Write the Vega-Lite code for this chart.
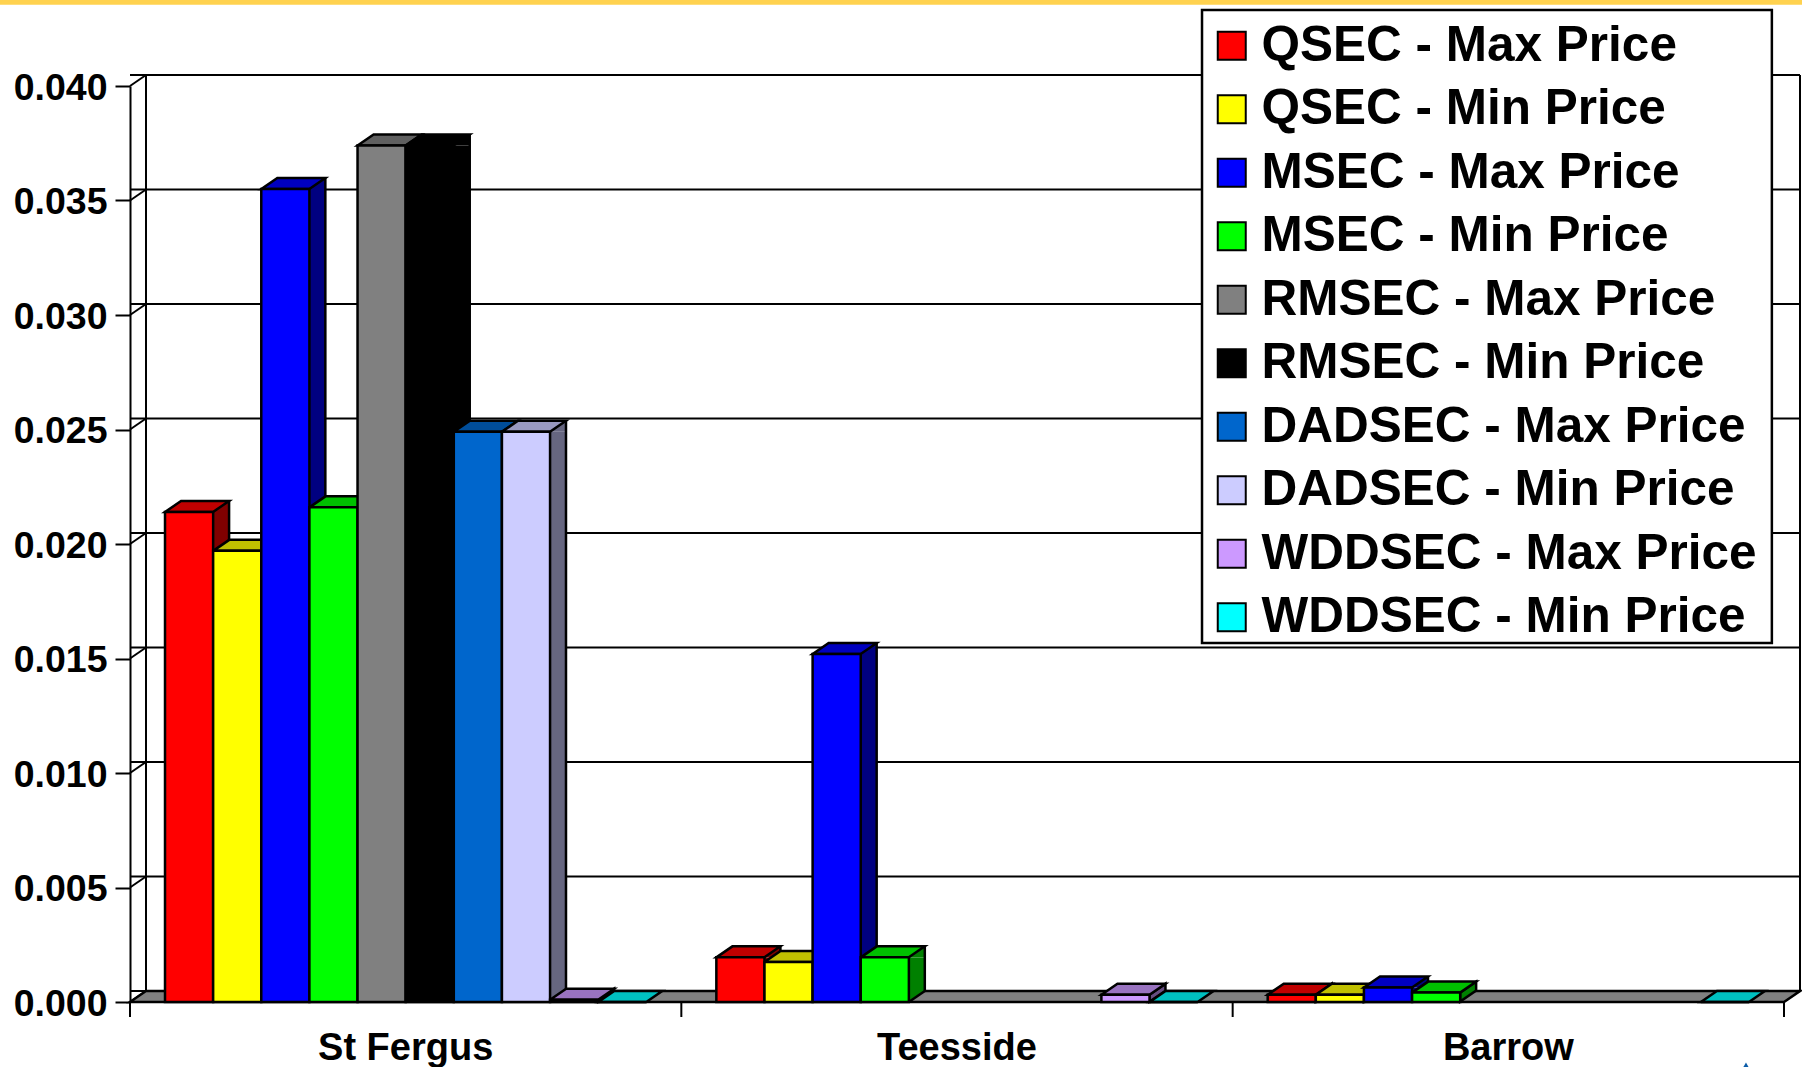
{"$schema":"https://vega.github.io/schema/vega-lite/v6.json","width":1654,"height":916,"autosize":"none","padding":{"left":130,"top":86,"right":18,"bottom":65},"background":"white","view":{"stroke":null},
"datasets":{"bars":[
{"site":"St Fergus","series":"QSEC - Max Price","value":0.0214},{"site":"St Fergus","series":"QSEC - Min Price","value":0.0197},{"site":"St Fergus","series":"MSEC - Max Price","value":0.0355},{"site":"St Fergus","series":"MSEC - Min Price","value":0.0216},{"site":"St Fergus","series":"RMSEC - Max Price","value":0.0374},{"site":"St Fergus","series":"RMSEC - Min Price","value":0.0374},{"site":"St Fergus","series":"DADSEC - Max Price","value":0.0249},{"site":"St Fergus","series":"DADSEC - Min Price","value":0.0249},{"site":"St Fergus","series":"WDDSEC - Max Price","value":0.0001},{"site":"St Fergus","series":"WDDSEC - Min Price","value":0},
{"site":"Teesside","series":"QSEC - Max Price","value":0.00195},{"site":"Teesside","series":"QSEC - Min Price","value":0.00175},{"site":"Teesside","series":"MSEC - Max Price","value":0.0152},{"site":"Teesside","series":"MSEC - Min Price","value":0.00195},{"site":"Teesside","series":"WDDSEC - Max Price","value":0.00032},{"site":"Teesside","series":"WDDSEC - Min Price","value":0},
{"site":"Barrow","series":"QSEC - Max Price","value":0.00032},{"site":"Barrow","series":"QSEC - Min Price","value":0.00032},{"site":"Barrow","series":"MSEC - Max Price","value":0.00063},{"site":"Barrow","series":"MSEC - Min Price","value":0.00041},{"site":"Barrow","series":"WDDSEC - Min Price","value":0}],
"ticks":[{"tick":0},{"tick":0.005},{"tick":0.01},{"tick":0.015},{"tick":0.02},{"tick":0.025},{"tick":0.03},{"tick":0.035},{"tick":0.04}],
"edges":[{"edge":0},{"edge":1},{"edge":2},{"edge":3}]},
"resolve":{"scale":{"x":"independent","color":"independent","shape":"independent"}},
"layer":[
{"data":{"values":[{"a":-0.2358,"b":3.0327,"top":0.043756,"bottom":0.04355}]},"mark":{"type":"rect","color":"#FFD24F"},"encoding":{"x":{"field":"a","type":"quantitative","scale":{"domain":[0,3],"nice":false,"zero":false},"axis":null},"x2":{"field":"b"},"y":{"field":"top","type":"quantitative","scale":{"domain":[0,0.04],"nice":false},"axis":{"values":[0,0.005,0.01,0.015,0.02,0.025,0.03,0.035,0.04],"format":".3f","title":null,"grid":false,"domain":true,"domainColor":"black","domainWidth":2,"tickColor":"black","tickWidth":2,"tickSize":15,"labelPadding":8,"labelOffset":2,"labelFont":"Liberation Sans","labelFontWeight":"bold","labelFontSize":37.5,"labelColor":"black"}},"y2":{"field":"bottom"}}},
{"data":{"name":"ticks"},"mark":{"type":"rule","color":"black","strokeWidth":2,"xOffset":16,"x2Offset":16,"yOffset":-11},"encoding":{"y":{"field":"tick","type":"quantitative"}}},
{"data":{"name":"ticks"},"mark":{"type":"point","shape":"M0,0L16,-11","size":4,"stroke":"black","strokeWidth":2,"filled":false,"opacity":1},"encoding":{"x":{"datum":0,"type":"quantitative","scale":{"domain":[0,3],"nice":false,"zero":false},"axis":null},"y":{"field":"tick","type":"quantitative"}}},
{"data":{"name":"edges"},"transform":[{"filter":"datum.edge==0||datum.edge==3"}],"mark":{"type":"rule","color":"black","strokeWidth":2,"xOffset":16,"yOffset":-11,"y2Offset":-11},"encoding":{"x":{"field":"edge","type":"quantitative","scale":{"domain":[0,3],"nice":false,"zero":false},"axis":null},"y":{"datum":0,"type":"quantitative"},"y2":{"datum":0.04}}},
{"data":{"values":[{"edge":0}]},"mark":{"type":"point","shape":"M0,0L1654,0L1670,-11L16,-11Z","size":4,"fill":"#808080","stroke":"black","strokeWidth":2.5,"filled":true,"opacity":1},"encoding":{"x":{"field":"edge","type":"quantitative","scale":{"domain":[0,3],"nice":false,"zero":false},"axis":null},"y":{"datum":0,"type":"quantitative"}}},
{"data":{"name":"edges"},"mark":{"type":"point","shape":"M0,0L0,15","size":4,"stroke":"black","strokeWidth":2,"filled":false,"opacity":1},"encoding":{"x":{"field":"edge","type":"quantitative","scale":{"domain":[0,3],"nice":false,"zero":false},"axis":null},"y":{"datum":0,"type":"quantitative"}}},
{"data":{"values":[{"pos":2.931,"val":-0.00295}]},"mark":{"type":"point","shape":"triangle-up","size":260,"filled":true,"fill":"#0B5CA8","opacity":1},"encoding":{"x":{"field":"pos","type":"quantitative","scale":{"domain":[0,3],"nice":false,"zero":false},"axis":null},"y":{"field":"val","type":"quantitative"}}},
{"data":{"name":"bars"},
"encoding":{"x":{"field":"site","type":"nominal","sort":null,"scale":{"type":"band","domain":["St Fergus","Teesside","Barrow"],"paddingInner":0.127,"paddingOuter":0.0635},"axis":null},"xOffset":{"field":"series","type":"nominal","sort":null,"scale":{"type":"band","domain":["QSEC - Max Price","QSEC - Min Price","MSEC - Max Price","MSEC - Min Price","RMSEC - Max Price","RMSEC - Min Price","DADSEC - Max Price","DADSEC - Min Price","WDDSEC - Max Price","WDDSEC - Min Price"],"paddingInner":0,"paddingOuter":0}},"y":{"field":"value","type":"quantitative"}},
"resolve":{"scale":{"x":"independent","xOffset":"independent","color":"independent","shape":"independent"}},
"layer":[
{"transform":[{"filter":"datum.value>=0.0005"}],"mark":{"type":"bar","width":16,"y2Offset":-11},"encoding":{"x":{"field":"site","type":"nominal","sort":null,"scale":{"type":"band","domain":["St Fergus","Teesside","Barrow"],"paddingInner":0.127,"paddingOuter":0.0635,"range":[32,1686]},"axis":null},"y2":{"datum":0},"color":{"field":"series","type":"nominal","legend":null,"scale":{"domain":["QSEC - Max Price","QSEC - Min Price","MSEC - Max Price","MSEC - Min Price","RMSEC - Max Price","RMSEC - Min Price","DADSEC - Max Price","DADSEC - Min Price","WDDSEC - Max Price","WDDSEC - Min Price"],"range":["#800000","#808000","#000080","#008000","#404040","#000000","#003366","#666680","#664D80","#008080"]}}}},
{"transform":[{"filter":"datum.value>=0.0005"}],"mark":{"type":"point","shape":"M24,0L40,-11L40,0Z","size":4,"filled":true,"opacity":1},"encoding":{"color":{"field":"series","type":"nominal","legend":null,"scale":{"domain":["QSEC - Max Price","QSEC - Min Price","MSEC - Max Price","MSEC - Min Price","RMSEC - Max Price","RMSEC - Min Price","DADSEC - Max Price","DADSEC - Min Price","WDDSEC - Max Price","WDDSEC - Min Price"],"range":["#800000","#808000","#000080","#008000","#404040","#000000","#003366","#666680","#664D80","#008080"]}}}},
{"transform":[{"filter":"datum.value>=0.0005"}],"mark":{"type":"point","shape":"M24,0L24,-11L40,-11Z","size":4,"filled":true,"opacity":1},"encoding":{"y":{"datum":0,"type":"quantitative"},"color":{"field":"series","type":"nominal","legend":null,"scale":{"domain":["QSEC - Max Price","QSEC - Min Price","MSEC - Max Price","MSEC - Min Price","RMSEC - Max Price","RMSEC - Min Price","DADSEC - Max Price","DADSEC - Min Price","WDDSEC - Max Price","WDDSEC - Min Price"],"range":["#800000","#808000","#000080","#008000","#404040","#000000","#003366","#666680","#664D80","#008080"]}}}},
{"transform":[{"filter":"datum.value>=0.0005"}],"mark":{"type":"point","shape":"M24,0L40,-11","size":4,"filled":false,"stroke":"black","strokeWidth":2.5,"opacity":1},"encoding":{"y":{"datum":0,"type":"quantitative"}}},
{"transform":[{"filter":"datum.value>=0.0005"}],"mark":{"type":"rule","color":"black","strokeWidth":2.5,"yOffset":-11,"y2Offset":-11},"encoding":{"x":{"field":"site","type":"nominal","sort":null,"scale":{"type":"band","domain":["St Fergus","Teesside","Barrow"],"paddingInner":0.127,"paddingOuter":0.0635,"range":[40,1694]},"axis":null},"y2":{"datum":0}}},
{"transform":[{"filter":"datum.value>0&&datum.value<0.0005"}],"mark":{"type":"point","size":4,"filled":true,"stroke":"black","strokeWidth":2.5,"opacity":1},"encoding":{"shape":{"field":"value","type":"nominal","legend":null,"scale":{"domain":[0.0001,0.00032,0.00041],"range":["M24,0L40,-11L40,-9L24,2Z","M24,0L40,-11L40,-4L24,7Z","M24,0L40,-11L40,-2L24,9Z"]}},"color":{"field":"series","type":"nominal","legend":null,"scale":{"domain":["QSEC - Max Price","QSEC - Min Price","MSEC - Min Price","WDDSEC - Max Price"],"range":["#800000","#808000","#008000","#664D80"]}}}},
{"mark":{"type":"point","shape":"M-24,0L24,0L40,-11L-8,-11Z","size":4,"filled":true,"stroke":"black","strokeWidth":2.5,"opacity":1},"encoding":{"color":{"field":"series","type":"nominal","legend":null,"scale":{"domain":["QSEC - Max Price","QSEC - Min Price","MSEC - Max Price","MSEC - Min Price","RMSEC - Max Price","RMSEC - Min Price","DADSEC - Max Price","DADSEC - Min Price","WDDSEC - Max Price","WDDSEC - Min Price"],"range":["#C00000","#C0C000","#0000C0","#00C000","#606060","#000000","#004D99","#9999C0","#9973C0","#00C0C0"]}}}},
{"mark":{"type":"bar","stroke":"black","strokeWidth":2.5},"encoding":{"x":{"field":"site","type":"nominal","sort":null,"scale":{"type":"band","domain":["St Fergus","Teesside","Barrow"],"paddingInner":0.127,"paddingOuter":0.0635},"axis":{"title":null,"ticks":false,"domain":false,"labelAngle":0,"labelFont":"Liberation Sans","labelFontWeight":"bold","labelFontSize":38,"labelColor":"black","labelPadding":27}},"y2":{"datum":0},"color":{"field":"series","type":"nominal","sort":null,"scale":{"domain":["QSEC - Max Price","QSEC - Min Price","MSEC - Max Price","MSEC - Min Price","RMSEC - Max Price","RMSEC - Min Price","DADSEC - Max Price","DADSEC - Min Price","WDDSEC - Max Price","WDDSEC - Min Price"],"range":["#FF0000","#FFFF00","#0000FF","#00FF00","#808080","#000000","#0066CC","#CCCCFF","#CC99FF","#00FFFF"]},"legend":{"title":null,"orient":"none","legendX":1077,"legendY":-65,"padding":0,"labelFont":"Liberation Sans","labelFontWeight":"bold","labelFontSize":49.5,"labelColor":"black","labelLimit":600,"labelOffset":5,"symbolType":"square","symbolSize":784,"symbolStrokeColor":"black","symbolStrokeWidth":2,"rowPadding":12.5,"values":["QSEC - Max Price","QSEC - Min Price","MSEC - Max Price","MSEC - Min Price","RMSEC - Max Price","RMSEC - Min Price","DADSEC - Max Price","DADSEC - Min Price","WDDSEC - Max Price","WDDSEC - Min Price"]}}}}
]},
{"data":{"values":[{"left":1.9444,"right":2.978,"top":0.04332,"bottom":0.01568}]},"mark":{"type":"rect","fill":"white","stroke":"black","strokeWidth":2.5},"encoding":{"x":{"field":"left","type":"quantitative","scale":{"domain":[0,3],"nice":false,"zero":false},"axis":null},"x2":{"field":"right"},"y":{"field":"top","type":"quantitative"},"y2":{"field":"bottom"}}}
]}
